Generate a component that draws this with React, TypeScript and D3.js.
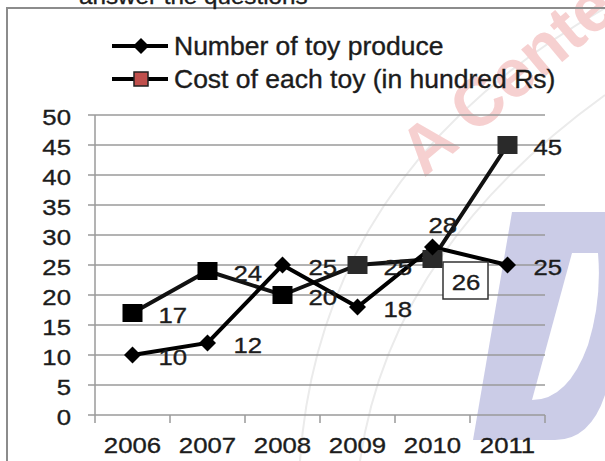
import * as d3 from "d3";

const W = 605;
const H = 461;

const years = ["2006", "2007", "2008", "2009", "2010", "2011"];
const toysProduced = [10, 12, 25, 18, 28, 25];
const costPerToy = [17, 24, 20, 25, 26, 45];
const yTicks = [0, 5, 10, 15, 20, 25, 30, 35, 40, 45, 50];
// how each data label sits next to its point
const toysLabelPlace = ["right", "right", "right", "right", "above", "right"];
const costLabelPlace = ["right", "right", "right", "right", "boxed", "right"];

const FONT = "'Liberation Sans', Arial, sans-serif";
const INK = "#1c1c1c";
const GRID = "#9a9a9a";

const x = d3.scaleBand().domain(years).range([95, 545]);
const y = d3.scaleLinear().domain([0, 50]).range([415, 115]);
const cx = (yr: string) => (x(yr) ?? 0) + x.bandwidth() / 2;

const line = d3
  .line<number>()
  .x((_, i) => cx(years[i]))
  .y((d) => y(d));

const diamond = (px: number, py: number, r = 8.5) =>
  `M${px},${py - r}L${px + r},${py}L${px},${py + r}L${px - r},${py}Z`;

// stretched text, the source picture is a bit wider than tall
function T({
  x: tx,
  y: ty,
  size = 23,
  sx = 1.12,
  anchor = "start",
  fill = INK,
  children,
}: any) {
  return (
    <text
      transform={`translate(${tx},${ty}) scale(${sx},1)`}
      fontSize={size}
      fontFamily={FONT}
      textAnchor={anchor}
      fill={fill}
      stroke={fill}
      strokeWidth={0.35}
    >
      {children}
    </text>
  );
}

function Label({ v, px, py, place }: any) {
  if (place === "above") {
    return <T x={px - 4} y={py - 14}>{v}</T>;
  }
  if (place === "boxed") {
    return (
      <g>
        <rect
          x={px + 10.5}
          y={py + 3}
          width={45}
          height={37}
          fill="white"
          stroke="#333"
          strokeWidth={1.5}
        />
        <T x={px + 33.5} y={py + 31} anchor="middle">
          {v}
        </T>
      </g>
    );
  }
  return <T x={px + 26} y={py + 10}>{v}</T>;
}

export default function App() {
  const boundaries = [...years.map((yr) => x(yr) ?? 0), 545];

  return (
    <svg
      width={W}
      height={H}
      viewBox={`0 0 ${W} ${H}`}
      style={{ position: "absolute", left: 0, top: 0, background: "white" }}
    >
      {/* watermarks */}
      <g>
        <path
          d="M300,461 Q320,170 605,8"
          fill="none"
          stroke="#ebebeb"
          strokeWidth={2}
        />
        <path
          d="M360,461 Q390,250 605,95"
          fill="none"
          stroke="#ebebeb"
          strokeWidth={2}
        />
        <text
          transform="translate(424,178) rotate(-40)"
          fontSize={68}
          fontWeight="bold"
          fontFamily={FONT}
          fill="#f6d0d0"
        >
          A Center
        </text>
        <path
          d="M512,212 L605,212 L605,395 Q590,440 555,440 L473,440 Z"
          fill="#cbcce7"
        />
        <path
          d="M572,253 L598,253 Q602,300 588,345 Q568,400 532,400 Z"
          fill="white"
        />
      </g>

      {/* frame of the figure */}
      <path d="M7,461 V8 H605" fill="none" stroke="#8c8c8c" strokeWidth={2} />
      <T x={79} y={4} size={22} sx={1.1}>
        answer the questions
      </T>

      {/* legend */}
      <g>
        <line x1={112} x2={168} y1={46} y2={46} stroke="#000" strokeWidth={4} />
        <path d={diamond(141, 46, 8)} fill="#000" />
        <T x={174} y={55} size={25} sx={1.06}>
          Number of toy produce
        </T>
        <line x1={112} x2={168} y1={79} y2={79} stroke="#000" strokeWidth={4} />
        <rect
          x={134}
          y={72}
          width={14}
          height={14}
          fill="#c0504d"
          stroke="#222"
          strokeWidth={1.5}
        />
        <T x={174} y={88} size={25} sx={1.06}>
          Cost of each toy (in hundred Rs)
        </T>
      </g>

      {/* grid + y axis */}
      {yTicks.map((t) => (
        <g key={t}>
          <line
            x1={88}
            x2={545}
            y1={y(t)}
            y2={y(t)}
            stroke={GRID}
            strokeWidth={1.5}
          />
          <T x={71} y={y(t) + 10} anchor="end">
            {t}
          </T>
        </g>
      ))}
      <line x1={95} x2={95} y1={y(50)} y2={y(0)} stroke={GRID} strokeWidth={1.5} />
      {boundaries.map((bx, i) => (
        <line
          key={i}
          x1={bx}
          x2={bx}
          y1={y(0)}
          y2={y(0) + 8}
          stroke={GRID}
          strokeWidth={1.5}
        />
      ))}
      {years.map((yr) => (
        <T key={yr} x={cx(yr)} y={453} anchor="middle">
          {yr}
        </T>
      ))}

      {/* series */}
      <path d={line(costPerToy) ?? ""} fill="none" stroke="#111" strokeWidth={4} />
      <path d={line(toysProduced) ?? ""} fill="none" stroke="#000" strokeWidth={4} />
      {costPerToy.map((v, i) => (
        <rect
          key={"c" + i}
          x={cx(years[i]) - 10}
          y={y(v) - 9}
          width={20}
          height={18}
          fill={i >= 3 ? "#2a2a2a" : "#000"}
        />
      ))}
      {toysProduced.map((v, i) => (
        <path key={"t" + i} d={diamond(cx(years[i]), y(v))} fill="#000" />
      ))}

      {/* data labels */}
      {toysProduced.map((v, i) => (
        <Label
          key={"lt" + i}
          v={v}
          px={cx(years[i])}
          py={y(v)}
          place={toysLabelPlace[i]}
        />
      ))}
      {costPerToy.map((v, i) => (
        <Label
          key={"lc" + i}
          v={v}
          px={cx(years[i])}
          py={y(v)}
          place={costLabelPlace[i]}
        />
      ))}
    </svg>
  );
}
